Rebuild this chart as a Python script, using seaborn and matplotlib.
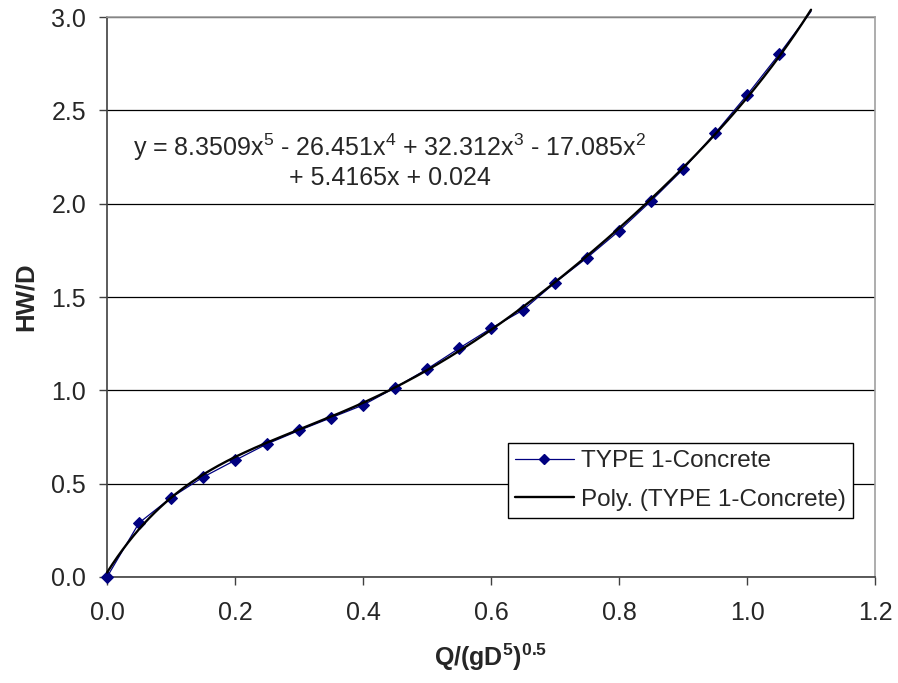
import numpy as np
import pandas as pd
import matplotlib
matplotlib.use("Agg")
import matplotlib.pyplot as plt
from matplotlib.lines import Line2D
import seaborn as sns

# Measured culvert headwater ratio versus discharge parameter
q_param = [0.00, 0.05, 0.10, 0.15, 0.20, 0.25, 0.30, 0.35, 0.40, 0.45, 0.50,
           0.55, 0.60, 0.65, 0.70, 0.75, 0.80, 0.85, 0.90, 0.95, 1.00, 1.05, 1.10]
hw_d = [0.000, 0.290, 0.425, 0.535, 0.625, 0.713, 0.785, 0.853, 0.921, 1.014, 1.114,
        1.225, 1.332, 1.430, 1.577, 1.710, 1.854, 2.014, 2.184, 2.377, 2.582, 2.800, 3.030]

# 5th-order polynomial trendline, highest power first
poly_coeffs = [8.3509, -26.451, 32.312, -17.085, 5.4165, 0.024]
trend_range = (0.0, 1.1)

series_name = "TYPE 1-Concrete"
trend_name = "Poly. (TYPE 1-Concrete)"
x_ticks = [0.0, 0.2, 0.4, 0.6, 0.8, 1.0, 1.2]
y_ticks = [0.0, 0.5, 1.0, 1.5, 2.0, 2.5, 3.0]

sns.set_style("white")
plt.rcParams["font.family"] = ["Liberation Sans", "DejaVu Sans"]
plt.rcParams["mathtext.fontset"] = "custom"
plt.rcParams["mathtext.rm"] = "Liberation Sans"
plt.rcParams["mathtext.it"] = "Liberation Sans"
plt.rcParams["mathtext.bf"] = "Liberation Sans:bold"

fig = plt.figure(figsize=(8.98, 6.83), dpi=100)
ax = fig.add_axes([0.1192, 0.1552, 0.8552, 0.8199])

df = pd.DataFrame({"q": q_param, "hw": hw_d})
xs = np.linspace(trend_range[0], trend_range[1], 400)
trend_df = pd.DataFrame({"q": xs, "hw": np.polyval(poly_coeffs, xs)})

navy = "#000080"
marked = [i for i, v in enumerate(hw_d) if v <= 3.0]
sns.lineplot(data=df, x="q", y="hw", ax=ax, color=navy, lw=0.9,
             marker="D", markersize=6, markevery=marked,
             markeredgecolor=navy, markerfacecolor=navy,
             sort=False, estimator=None, clip_on=False, zorder=3)
sns.lineplot(data=trend_df, x="q", y="hw", ax=ax, color="black", lw=1.7,
             sort=False, estimator=None, clip_on=False, zorder=4)

ax.set_xlim(0, 1.2)
ax.set_ylim(0, 3.0)
ax.set_xticks(x_ticks)
ax.set_yticks(y_ticks)
ax.set_xticklabels([f"{t:.1f}" for t in x_ticks])
ax.set_yticklabels([f"{t:.1f}" for t in y_ticks])
ax.tick_params(axis="both", labelsize=18, direction="out", length=6,
               width=1, color="#404040", left=True, bottom=True)
ax.tick_params(axis="y", pad=9)
ax.tick_params(axis="x", pad=11)

ax.yaxis.grid(True, color="black", lw=0.9)
ax.xaxis.grid(False)
ax.set_axisbelow(True)
for side in ("left", "bottom"):
    ax.spines[side].set_color("#404040")
    ax.spines[side].set_linewidth(1.2)
for side in ("top", "right"):
    ax.spines[side].set_color("#a0a0a0")
    ax.spines[side].set_linewidth(1.2)

ax.set_xlabel(r"Q/(gD$^{\mathbf{5}}$)$^{\mathbf{0.5}}$", fontsize=18,
              fontweight="bold", labelpad=12)
ax.set_ylabel("HW/D", fontsize=18.5, fontweight="bold", labelpad=10)

eq = (r"y = 8.3509x$^5$ - 26.451x$^4$ + 32.312x$^3$ - 17.085x$^2$" "\n"
      "+ 5.4165x + 0.024")
ax.text(0.442, 2.229, eq, fontsize=18, ha="center", va="center",
        multialignment="center", linespacing=1.15)

handles = [
    Line2D([], [], color=navy, lw=0.9, marker="D", markersize=5,
           markerfacecolor=navy, markeredgecolor=navy),
    Line2D([], [], color="black", lw=1.7),
]
leg = ax.legend(handles, [series_name, trend_name], loc="lower right",
                bbox_to_anchor=(853 / 898, 1 - 518 / 683),
                bbox_transform=fig.transFigure, fontsize=17.5,
                frameon=True, fancybox=False, framealpha=1,
                edgecolor="black", borderpad=0.3, handlelength=2.4,
                handletextpad=0.3, labelspacing=0.68, borderaxespad=0)
leg.get_frame().set_linewidth(1.0)

fig.savefig("out.png", dpi=100)
